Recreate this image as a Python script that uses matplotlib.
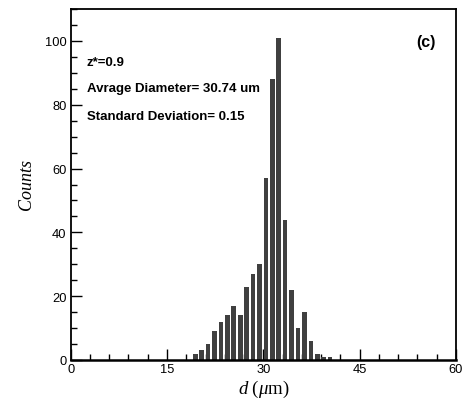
import matplotlib
matplotlib.use("Agg")
import matplotlib.pyplot as plt
from matplotlib.ticker import MultipleLocator

plt.rcParams['font.family'] = ['Liberation Sans', 'DejaVu Sans']
plt.rcParams['mathtext.fontset'] = 'custom'
plt.rcParams['mathtext.rm'] = 'Liberation Serif'
plt.rcParams['mathtext.it'] = 'Liberation Serif:italic'

# bin centres (um) and counts
diameters = [19.4, 20.4, 21.4, 22.4, 23.4, 24.4, 25.4, 26.4, 27.4, 28.4, 29.4,
             30.4, 31.4, 32.4, 33.4, 34.4, 35.4, 36.4, 37.4, 38.4, 39.4, 40.4]
counts = [2, 3, 5, 9, 12, 14, 17, 14, 23, 27, 30,
          57, 88, 101, 44, 22, 10, 15, 6, 2, 1, 1]

fig = plt.figure(figsize=(4.63, 4.02), dpi=100)
ax = fig.add_axes([0.1527, 0.102, 0.832, 0.873])

ax.bar(diameters, counts, width=0.72, color='#404040', zorder=2)

ax.set_xlim(0, 60)
ax.set_ylim(0, 110)
ax.xaxis.set_major_locator(MultipleLocator(15))
ax.xaxis.set_minor_locator(MultipleLocator(3))
ax.yaxis.set_major_locator(MultipleLocator(20))
ax.yaxis.set_minor_locator(MultipleLocator(5))
ax.tick_params(which='both', direction='in', labelsize=9.3, width=1.0)
ax.tick_params(which='major', length=8)
ax.tick_params(which='minor', length=4)
ax.tick_params(axis='x', pad=2)
ax.tick_params(axis='y', pad=3)
for s in ax.spines.values():
    s.set_linewidth(1.3)
ax.spines['bottom'].set_linewidth(1.8)

ax.set_xlabel(r'$d\ (\mu\mathrm{m})$', fontsize=13.5, labelpad=2.5)
ax.set_ylabel(r'$Counts$', fontsize=13, labelpad=6)

ax.text(2.5, 93.5, 'z*=0.9', fontsize=9.5, fontweight='bold', va='center')
ax.text(2.5, 85.2, 'Avrage Diameter= 30.74 um', fontsize=9.5, fontweight='bold', va='center')
ax.text(2.5, 76.6, 'Standard Deviation= 0.15', fontsize=9.5, fontweight='bold', va='center')
ax.text(56.9, 99.8, '(c)', fontsize=11.5, fontweight='bold', va='center', ha='right')

fig.savefig('out.png', dpi=100)
